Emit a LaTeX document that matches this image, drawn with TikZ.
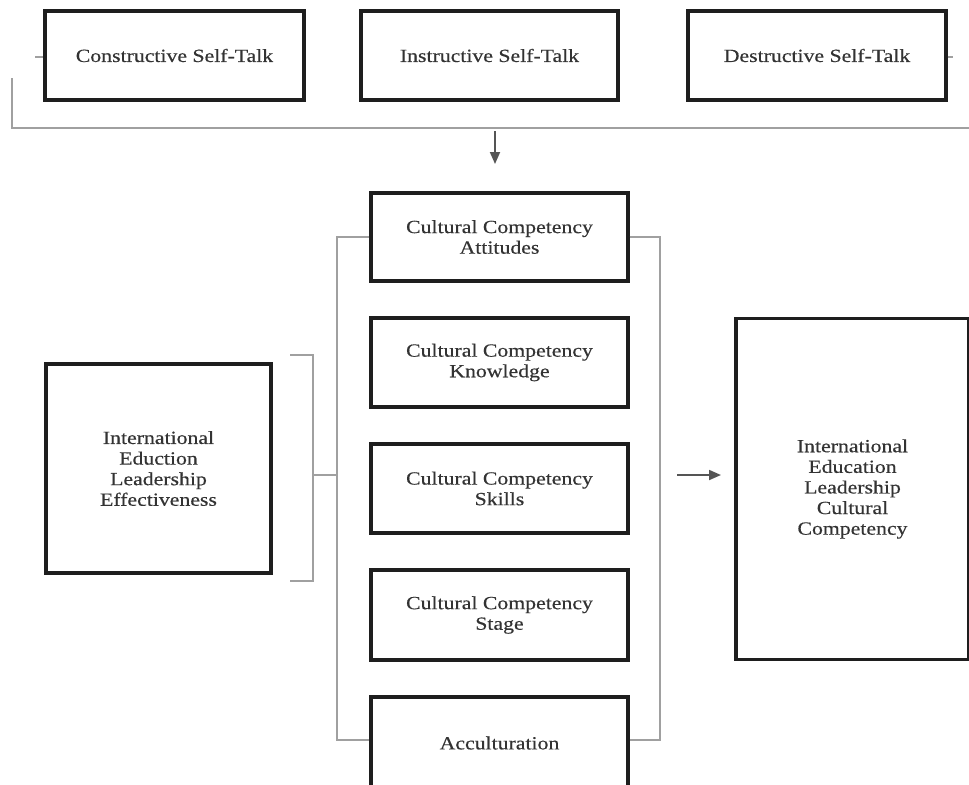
\documentclass[tikz,border=0pt]{standalone}
\usepackage{fontspec}
\setmainfont{Liberation Serif}[FakeStretch=1.17,FakeBold=0.4]
\usetikzlibrary{arrows.meta}
\definecolor{boxline}{HTML}{1E1E1E}
\definecolor{txt}{HTML}{333333}
\definecolor{brk}{HTML}{A0A0A0}
\definecolor{arr}{HTML}{555555}
\tikzset{
  box/.style={draw=boxline, line width=1.6pt, rectangle, align=center, inner sep=0pt,
    text=txt, font=\fontsize{9.3}{10.3}\selectfont},
  brline/.style={draw=brk, line width=1pt},
  arline/.style={draw=arr, line width=0.9pt, -{Triangle[length=6pt,width=5pt]}, color=arr},
}
\begin{document}
\begin{tikzpicture}[x=0.5pt,y=-0.5pt]
\useasboundingbox (0,0) rectangle (969,784);
% top boxes
\node[box, minimum width=129.5pt, minimum height=44.5pt] (con) at (174.5,55.5) {\raisebox{-1pt}{Constructive Self-Talk}};
\node[box, minimum width=128.5pt, minimum height=44.5pt] (ins) at (489.5,55.5) {\raisebox{-1pt}{Instructive Self-Talk}};
\node[box, minimum width=129pt, minimum height=44.5pt] (des) at (817,55.5) {\raisebox{-1pt}{Destructive Self-Talk}};
% small ticks
\coordinate (tl) at (35,57);
\coordinate (tr) at (953,57);
\draw[brline] (tl) -- (tl -| con.west);
\draw[brline] (des.east |- tr) -- (tr);
% top bracket
\coordinate (tb1) at (12,78);
\coordinate (tb2) at (12,128);
\coordinate (tb3) at (969,128);
\draw[brline] (tb1) -- (tb2) -- (tb3);
% middle column
\node[box, minimum width=128.5pt, minimum height=44pt] (att) at (499.5,237) {Cultural Competency\\Attitudes};
\node[box, minimum width=128.5pt, minimum height=44.5pt] (kno) at (499.5,362.5) {Cultural Competency\\Knowledge};
\node[box, minimum width=128.5pt, minimum height=44.5pt] (ski) at (499.5,488.5) {Cultural Competency\\Skills};
\node[box, minimum width=128.5pt, minimum height=45pt] (sta) at (499.5,615) {Cultural Competency\\Stage};
\node[box, minimum width=128.5pt, minimum height=46pt] (acc) at (499.5,743) {Acculturation};
% arrow down
\coordinate (ad1) at (495,131);
\coordinate (ad2) at (495,164);
\draw[arline] (ad1) -- (ad2);
% middle brackets
\coordinate (lb) at (337,740);
\coordinate (rb) at (660,740);
\draw[brline] (att.west) -| (lb) -- (lb -| acc.west);
\draw[brline] (att.east) -| (rb) -- (rb -| acc.east);
% left box
\node[box, minimum width=112.5pt, minimum height=104.5pt] (ile) at (158.5,468.5) {International\\Eduction\\Leadership\\Effectiveness};
% left bracket
\coordinate (lbt0) at (290,355);
\coordinate (lbt) at (313,355);
\coordinate (lbb) at (313,581);
\coordinate (lbb0) at (290,581);
\coordinate (lbm) at (313,475);
\coordinate (lbm2) at (337,475);
\draw[brline] (lbt0) -- (lbt) -- (lbb) -- (lbb0);
\draw[brline] (lbm) -- (lbm2);
% right box
\node[box, line width=1.8pt, minimum width=116.5pt, minimum height=170.5pt] (iec) at (852.5,489) {International\\Education\\Leadership\\Cultural\\Competency};
% right arrow
\coordinate (ar1) at (677,475);
\coordinate (ar2) at (721,475);
\draw[arline] (ar1) -- (ar2);
\end{tikzpicture}
\end{document}
